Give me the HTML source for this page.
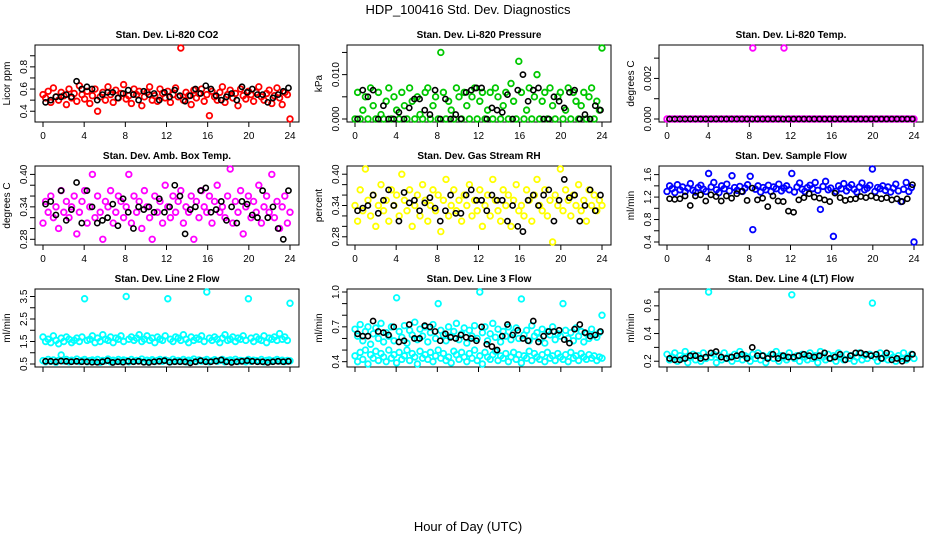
<!DOCTYPE html>
<html><head><meta charset="utf-8">
<style>
html,body{margin:0;padding:0;background:#fff;}
svg{display:block;font-family:"Liberation Sans",Arial,sans-serif;}
</style></head>
<body>
<svg id="chart" width="936" height="540" viewBox="0 0 936 540">
<text x="468" y="14" text-anchor="middle" font-size="13">HDP_100416  Std. Dev. Diagnostics</text>
<text x="468" y="531" text-anchor="middle" font-size="13">Hour of Day (UTC)</text>
</svg>
<script>
const xTicks = [0,4,8,12,16,20,24];

const co2Color = [.55,.52,.58,.48,.61,.53,.5,.57,.54,.46,.6,.52,.56,.49,.63,.55,.51,.58,.47,.54,.6,.4,.53,.57,.5,.62,.55,.48,.59,.52,.56,.64,.51,.54,.47,.6,.55,.58,.45,.53,.57,.62,.5,.54,.49,.6,.56,.52,.58,.48,.55,.61,.53,.97,.5,.57,.54,.46,.59,.52,.56,.6,.49,.55,.36,.58,.53,.5,.57,.62,.48,.55,.59,.52,.56,.45,.6,.54,.51,.58,.55,.49,.57,.62,.53,.5,.56,.59,.47,.54,.61,.52,.46,.57,.55,.33];
const co2Black = [.48,.5,.53,.53,.55,.53,.67,.6,.62,.6,.5,.55,.57,.57,.52,.56,.59,.55,.5,.58,.55,.56,.5,.57,.53,.59,.54,.49,.54,.6,.56,.63,.6,.54,.5,.53,.56,.5,.62,.57,.6,.55,.55,.48,.52,.55,.58,.61];

const presColor = [0,.006,0,.002,.005,0,.007,.003,0,.006,.001,0,.004,.007,0,.005,.002,0,.006,.003,0,.007,.004,0,.005,.001,0,.006,.007,0,.003,.005,0,.015,.006,0,.004,.002,0,.007,.005,0,.006,.003,0,.005,.007,0,.004,.006,0,.002,.006,0,.007,.005,0,.003,.006,0,.008,.004,0,.013,.006,0,.002,.007,0,.005,.01,0,.004,.006,0,.007,.003,0,.005,.006,0,.002,.007,0,.006,.004,0,.003,.006,0,.005,.007,0,.004,.002,.016];
const presBlack = [0,.0065,.005,.0065,0,.003,0,0,.0015,0,.0025,.0045,.0045,.002,.001,.0065,0,.0045,0,.001,0,.006,.0065,.007,.007,0,.0025,.002,.0015,.0055,0,.0065,.01,.004,.0065,.007,0,0,.005,.004,.0025,.006,.0065,0,.001,0,.003,.002];

const tempColor = [0,0,0,0,0,0,0,0,0,0,0,0,0,0,0,0,0,0,0,0,0,0,0,0,0,0,0,0,0,0,0,0,0,.0035,0,0,0,0,0,0,0,0,0,0,0,.0035,0,0,0,0,0,0,0,0,0,0,0,0,0,0,0,0,0,0,0,0,0,0,0,0,0,0,0,0,0,0,0,0,0,0,0,0,0,0,0,0,0,0,0,0,0,0,0,0,0,0];
const tempBlack = [0,0,0,0,0,0,0,0,0,0,0,0,0,0,0,0,0,0,0,0,0,0,0,0,0,0,0,0,0,0,0,0,0,0,0,0,0,0,0,0,0,0,0,0,0,0,0,0];

const ambColor = [.31,.35,.33,.36,.32,.34,.3,.37,.33,.35,.32,.34,.36,.29,.33,.35,.37,.31,.34,.4,.32,.36,.33,.28,.35,.34,.37,.31,.33,.36,.35,.32,.34,.4,.31,.36,.33,.35,.3,.37,.34,.32,.28,.36,.33,.35,.31,.38,.34,.32,.36,.33,.35,.37,.31,.34,.33,.36,.28,.35,.32,.37,.34,.33,.36,.31,.35,.38,.33,.34,.32,.36,.41,.31,.35,.33,.37,.29,.34,.36,.32,.35,.33,.38,.31,.34,.36,.33,.4,.32,.35,.3,.34,.36,.31,.33];
const ambBlack = [.345,.35,.325,.37,.315,.335,.385,.31,.37,.34,.31,.315,.32,.345,.305,.355,.33,.30,.34,.335,.34,.33,.355,.33,.34,.38,.36,.29,.335,.34,.37,.375,.33,.335,.35,.315,.34,.31,.35,.345,.325,.32,.37,.32,.34,.30,.28,.37];

const rhColor = [.34,.31,.37,.33,.41,.35,.32,.36,.3,.34,.38,.33,.35,.31,.37,.34,.36,.32,.4,.35,.33,.37,.3,.34,.36,.32,.38,.35,.31,.34,.37,.33,.36,.29,.35,.39,.32,.34,.37,.33,.35,.31,.36,.34,.38,.32,.35,.33,.37,.3,.34,.36,.32,.39,.35,.33,.31,.37,.34,.36,.3,.35,.38,.33,.34,.32,.37,.35,.31,.36,.39,.34,.33,.37,.32,.35,.27,.36,.34,.41,.33,.37,.35,.32,.36,.34,.38,.33,.35,.31,.37,.34,.36,.33,.35,.34];
const rhBlack = [.33,.335,.34,.36,.325,.35,.37,.34,.31,.365,.345,.35,.33,.345,.355,.335,.31,.33,.36,.325,.325,.36,.37,.35,.35,.33,.36,.35,.35,.31,.34,.3,.29,.35,.36,.34,.36,.37,.31,.35,.39,.355,.36,.31,.34,.37,.33,.36];

const sfColor = [1.3,1.4,1.35,1.28,1.42,1.33,1.38,1.3,1.36,1.44,1.32,1.29,1.37,1.41,1.34,1.3,1.62,1.38,1.46,1.33,1.28,1.4,1.35,1.43,1.31,1.58,1.37,1.32,1.39,1.3,1.36,1.42,1.57,.62,1.34,1.4,1.29,1.37,1.33,1.41,1.3,1.38,1.35,1.43,1.31,1.36,1.4,1.33,1.62,1.29,1.38,1.45,1.34,1.3,1.37,1.41,1.35,1.46,1.32,.98,1.39,1.48,1.33,1.36,.5,1.3,1.4,1.35,1.44,1.31,1.37,1.42,1.34,1.29,1.38,1.45,1.33,1.36,1.41,1.7,1.3,1.37,1.35,1.4,1.32,1.38,1.29,1.36,1.43,1.31,1.12,1.34,1.46,1.3,1.37,.4];
const sfBlack = [1.17,1.16,1.17,1.22,1.05,1.22,1.24,1.13,1.24,1.21,1.13,1.22,1.18,1.26,1.3,1.14,1.36,1.15,1.18,1.03,1.22,1.13,1.12,.95,.93,1.15,1.19,1.26,1.2,1.18,1.15,1.12,1.27,1.19,1.14,1.16,1.17,1.21,1.19,1.22,1.19,1.17,1.19,1.15,1.17,1.12,1.17,1.42];

const l2ColorHi = [1.7,1.5,1.6,1.45,1.75,1.55,1.4,1.65,1.5,1.7,1.6,1.45,1.55,1.65,1.5,1.7,3.4,1.55,1.6,1.75,1.45,1.65,1.5,1.8,1.6,1.55,1.7,1.45,1.65,1.6,1.75,1.5,3.5,1.6,1.7,1.55,1.65,1.8,1.5,1.6,1.75,1.55,1.65,1.45,1.7,1.6,1.55,1.75,3.4,1.6,1.5,1.7,1.65,1.55,1.8,1.6,1.45,1.7,1.55,1.65,1.6,1.75,1.5,3.7,1.65,1.55,1.7,1.6,1.45,1.65,1.8,1.55,1.6,1.7,1.5,1.65,1.6,1.75,1.55,3.4,1.65,1.5,1.7,1.6,1.55,1.75,1.45,1.65,1.6,1.7,1.55,1.85,1.6,1.7,1.55,3.2];
const l2ColorLo = [.65,.6,.7,.62,.68,.58,.66,.9,.63,.7,.6,.67,.64,.72,.61,.66,.7,.6,.65,.68,.62,.7,.58,.66,.64,.72,.6,.67,.63,.7,.61,.68,.65,.6,.7,.62,.66,.64,.72,.6,.67,.63,.69,.61,.66,.7,.62,.68,.64,.6,.71,.63,.66,.62,.7,.6,.67,.65,.72,.61,.68,.63,.66,.7,.6,.64,.69,.62,.66,.7,.6,.65,.68,.63,.71,.61,.66,.64,.6,.7,.62,.67,.65,.63,.7,.6,.66,.68,.62,.65,.7,.63,.67,.61,.66,.64];
const l2Black = [.62,.62,.6,.63,.62,.6,.62,.6,.6,.58,.58,.6,.65,.57,.6,.58,.62,.6,.62,.58,.57,.6,.62,.65,.58,.6,.6,.6,.55,.6,.65,.6,.6,.63,.68,.6,.57,.6,.62,.65,.62,.6,.6,.57,.6,.62,.6,.62];

const l3ColorHi = [.68,.62,.72,.58,.66,.7,.55,.64,.69,.6,.73,.57,.65,.62,.7,.58,.95,.66,.61,.71,.56,.67,.63,.74,.59,.68,.62,.7,.57,.65,.72,.6,.9,.67,.63,.58,.7,.62,.66,.73,.59,.64,.69,.56,.67,.62,.71,.6,1.0,.65,.7,.58,.64,.73,.61,.68,.57,.66,.62,.7,.59,.65,.69,.6,.94,.63,.67,.58,.71,.62,.65,.6,.68,.56,.66,.63,.7,.59,.64,.62,.9,.67,.6,.65,.58,.69,.62,.66,.57,.64,.6,.68,.63,.61,.65,.8];
const l3ColorLo = [.45,.4,.48,.42,.5,.38,.46,.43,.49,.41,.47,.44,.4,.5,.43,.46,.39,.48,.42,.45,.5,.41,.47,.44,.38,.49,.43,.46,.42,.48,.4,.45,.5,.43,.47,.41,.44,.39,.49,.46,.42,.48,.44,.4,.47,.43,.5,.41,.45,.38,.48,.44,.42,.46,.49,.41,.45,.43,.47,.4,.44,.48,.42,.46,.39,.45,.43,.49,.41,.47,.44,.42,.46,.4,.48,.43,.45,.41,.47,.44,.42,.46,.4,.48,.43,.45,.41,.47,.44,.42,.46,.43,.45,.41,.44,.43];
const l3Black = [.64,.62,.62,.75,.66,.65,.63,.7,.57,.58,.72,.6,.6,.71,.7,.66,.58,.64,.61,.6,.63,.61,.6,.58,.7,.55,.53,.5,.62,.72,.63,.67,.6,.58,.75,.57,.62,.66,.66,.67,.59,.56,.68,.72,.65,.62,.63,.66];

const l4Color = [.25,.21,.23,.26,.2,.24,.22,.27,.19,.23,.25,.21,.24,.2,.26,.22,.7,.23,.25,.19,.24,.21,.26,.22,.23,.2,.25,.22,.27,.21,.24,.23,.2,.25,.22,.26,.21,.24,.19,.23,.25,.22,.27,.2,.24,.23,.21,.26,.68,.22,.24,.2,.25,.23,.21,.26,.22,.24,.19,.27,.23,.21,.25,.22,.24,.2,.26,.23,.21,.25,.22,.24,.2,.23,.26,.21,.24,.22,.25,.62,.23,.2,.26,.22,.24,.21,.25,.23,.2,.24,.22,.26,.21,.23,.25,.22];
const l4Black = [.22,.21,.21,.22,.24,.24,.22,.23,.26,.27,.23,.22,.23,.24,.25,.22,.3,.24,.24,.22,.25,.22,.24,.23,.23,.24,.25,.24,.23,.24,.26,.22,.23,.25,.21,.24,.26,.26,.25,.24,.25,.22,.26,.21,.22,.2,.22,.25];

const yTicksCO2 = [.4,.5,.6,.7,.8,.9]; const yLabelsCO2 = ["0.4","","0.6","","0.8",""];
const yTicksPres = [0,.005,.01,.015]; const yLabelsPres = ["0.000","","0.010",""];
const yTicksTemp = [0,.001,.002,.003]; const yLabelsTemp = ["0.000","","0.002",""];
const yTicksAmb = [.28,.30,.32,.34,.36,.38,.40]; const yLabelsAmb = ["0.28","","","0.34","","","0.40"];
const yTicksRH = [.28,.30,.32,.34,.36,.38,.40]; const yLabelsRH = ["0.28","","","0.34","","","0.40"];
const yTicksSF = [.4,.6,.8,1.0,1.2,1.4,1.6]; const yLabelsSF = ["0.4","","0.8","","1.2","","1.6"];
const yTicksL2 = [.5,1,1.5,2,2.5,3,3.5]; const yLabelsL2 = ["0.5","","1.5","","2.5","","3.5"];
const yTicksL3 = [.4,.5,.6,.7,.8,.9,1.0]; const yLabelsL3 = ["0.4","","","0.7","","","1.0"];
const yTicksL4 = [.2,.3,.4,.5,.6,.7]; const yLabelsL4 = ["0.2","","0.4","","0.6",""];

const panels = [
 {name:"co2",title:"Stan. Dev. Li-820 CO2",ylab:"Licor ppm",col:0,row:0,lim:[.33,.97],color:"#ff0000",series:[co2Color],black:co2Black,ticks:yTicksCO2,labels:yLabelsCO2,xl:true},
 {name:"pressure",title:"Stan. Dev. Li-820 Pressure",ylab:"kPa",col:1,row:0,lim:[0,.016],color:"#00c800",series:[presColor],black:presBlack,ticks:yTicksPres,labels:yLabelsPres,xl:true},
 {name:"li820-temp",title:"Stan. Dev. Li-820 Temp.",ylab:"degrees C",col:2,row:0,lim:[0,.0035],color:"#ff00ff",series:[tempColor],black:tempBlack,ticks:yTicksTemp,labels:yLabelsTemp,xl:true},
 {name:"amb-box-temp",title:"Stan. Dev. Amb. Box Temp.",ylab:"degrees C",col:0,row:1,lim:[.275,.41],color:"#ff00ff",series:[ambColor],black:ambBlack,ticks:yTicksAmb,labels:yLabelsAmb,xl:true},
 {name:"gas-stream-rh",title:"Stan. Dev. Gas Stream RH",ylab:"percent",col:1,row:1,lim:[.27,.41],color:"#ffff00",series:[rhColor],black:rhBlack,ticks:yTicksRH,labels:yLabelsRH,xl:true},
 {name:"sample-flow",title:"Stan. Dev. Sample Flow",ylab:"ml/min",col:2,row:1,lim:[.4,1.7],color:"#0000ff",series:[sfColor],black:sfBlack,ticks:yTicksSF,labels:yLabelsSF,xl:true},
 {name:"line2-flow",title:"Stan. Dev. Line 2 Flow",ylab:"ml/min",col:0,row:2,lim:[.5,3.7],color:"#00ffff",series:[l2ColorHi,l2ColorLo],black:l2Black,ticks:yTicksL2,labels:yLabelsL2,xl:false},
 {name:"line3-flow",title:"Stan. Dev. Line 3 Flow",ylab:"ml/min",col:1,row:2,lim:[.38,1.0],color:"#00ffff",series:[l3ColorHi,l3ColorLo],black:l3Black,ticks:yTicksL3,labels:yLabelsL3,xl:false},
 {name:"line4-flow",title:"Stan. Dev. Line 4 (LT) Flow",ylab:"ml/min",col:2,row:2,lim:[.18,.7],color:"#00ffff",series:[l4Color],black:l4Black,ticks:yTicksL4,labels:yLabelsL4,xl:false}
];

const svg = document.getElementById('chart');
const NS = "http://www.w3.org/2000/svg";
function mk(tag, attrs, parent){ const e=document.createElementNS(NS,tag); for(const k in attrs) e.setAttribute(k,attrs[k]); (parent||svg).appendChild(e); return e; }

const colX0 = [43,355,667], span = 247;
const rowTop = [45,166,289], rowBot = [122,245,367];

panels.forEach(p=>{
  const g = mk('g',{});
  
  
  const x0 = colX0[p.col], top=rowTop[p.row], bot=rowBot[p.row];
  const xs = h => x0 + h/24*span;
  const ys = v => (bot-3) - (v-p.lim[0])/(p.lim[1]-p.lim[0])*((bot-3)-(top+3));
  const bl = x0-8, br = x0+span+9;
  const box = mk('rect',{x:bl,y:top,width:br-bl,height:bot-top,fill:'none',stroke:'#000','stroke-width':1},g);
  
  
  const t = mk('text',{x:(bl+br)/2,y:top-7,'text-anchor':'middle','font-size':10,'font-weight':'bold'},g);
  t.textContent = p.title;
  
  
  const yl = mk('text',{x:0,y:0,'text-anchor':'middle','font-size':10,transform:`translate(${bl-25},${(top+bot)/2}) rotate(-90)`},g);
  yl.textContent = p.ylab;
  
  
  mk('line',{x1:xs(0),x2:xs(24),y1:bot,y2:bot,stroke:'#000'},g);
  xTicks.forEach(h=>{
    mk('line',{x1:xs(h),x2:xs(h),y1:bot,y2:bot+5,stroke:'#000'},g);
    if(p.xl){ const tl=mk('text',{x:xs(h),y:bot+17,'text-anchor':'middle','font-size':10},g); tl.textContent=h;
      
       }
  });
  mk('line',{x1:bl,x2:bl,y1:ys(p.ticks[0]),y2:ys(p.ticks[p.ticks.length-1]),stroke:'#000'},g);
  p.ticks.forEach((v,i)=>{
    mk('line',{x1:bl-5,x2:bl,y1:ys(v),y2:ys(v),stroke:'#000'},g);
    if(p.labels[i]){ const tl=mk('text',{x:0,y:0,'text-anchor':'middle','font-size':10,transform:`translate(${bl-8},${ys(v)}) rotate(-90)`},g); tl.textContent=p.labels[i];
      
       }
  });
  p.series.forEach(arr=>{
    arr.forEach((v,i)=>{
      const c = mk('circle',{cx:xs(i*24/(arr.length-1)),cy:ys(v),r:2.8,fill:'none',stroke:p.color,'stroke-width':1.8},g);
      
      
    });
  });
  p.black.forEach((v,i)=>{
    const c = mk('circle',{cx:xs(0.25+i*23.6/(p.black.length-1)),cy:ys(v),r:2.6,fill:'none',stroke:'#000','stroke-width':1.6},g);
    
    
  });
});
</script>
</body></html>
